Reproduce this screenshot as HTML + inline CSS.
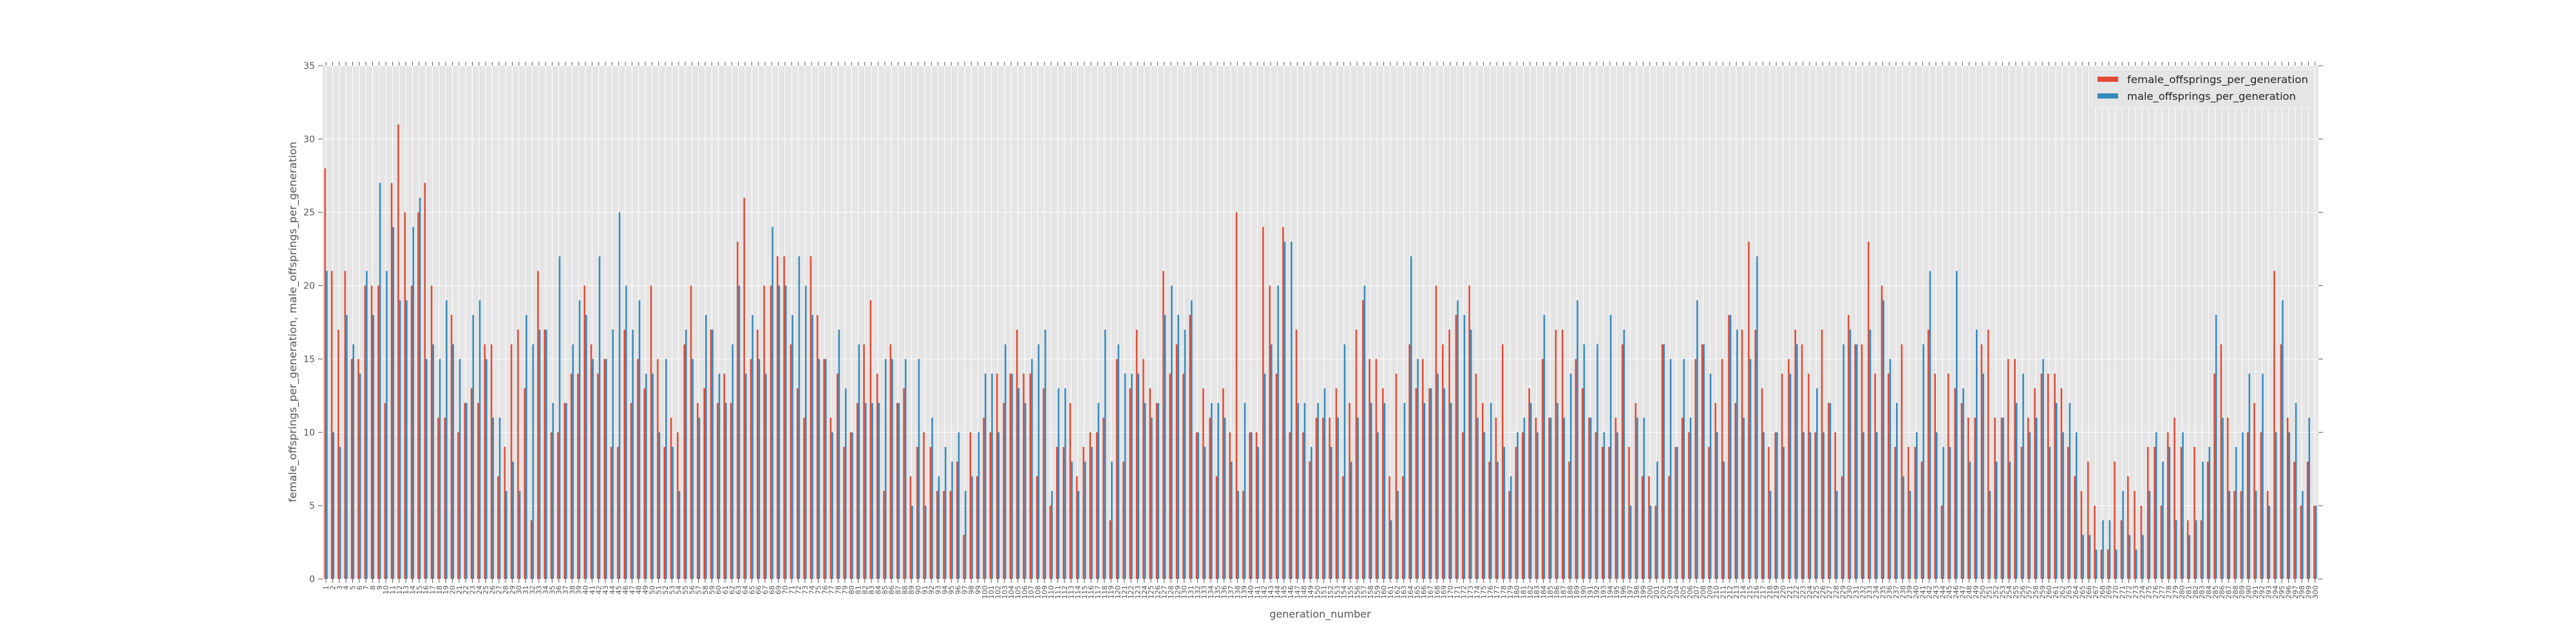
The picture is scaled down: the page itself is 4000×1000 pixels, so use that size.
<!DOCTYPE html>
<html><head><meta charset="utf-8"><style>
html,body{margin:0;padding:0;background:#fff;}
svg{display:block;font-family:"DejaVu Sans","Liberation Sans",sans-serif;}
</style></head><body>
<svg id="chart" width="4000" height="1000" viewBox="0 0 4000 1000" xmlns="http://www.w3.org/2000/svg">
<rect x="501" y="102" width="3099" height="797" fill="#e5e5e5"/>
<g id="grid"></g>
<g id="bars"></g>
<g id="xticks"></g>
<g id="yticks"></g>
<text x="2050" y="959" text-anchor="middle" font-size="16" fill="#555">generation_number</text>
<text transform="translate(460,500) rotate(-90)" text-anchor="middle" font-size="16" fill="#555" textLength="560" lengthAdjust="spacingAndGlyphs">female_offsprings_per_generation, male_offsprings_per_generation</text>
<g>
<rect x="3249" y="108" width="344" height="59" fill="#e5e5e5" stroke="#f4f4f4" stroke-width="1"/>
<g>
<rect x="3257" y="119" width="32" height="8" fill="#E24A33"/>
<text x="3303" y="129" font-size="16" fill="#222" textLength="281" lengthAdjust="spacingAndGlyphs">female_offsprings_per_generation</text>
</g>
<g>
<rect x="3257" y="145" width="32" height="8" fill="#348ABD"/>
<text x="3303" y="155" font-size="16" fill="#222" textLength="262" lengthAdjust="spacingAndGlyphs">male_offsprings_per_generation</text>
</g>
</g>
</svg>
<script>
const female = [28,21,17,21,15,15,20,20,20,12,27,31,25,20,25,27,20,11,11,18,10,12,13,12,16,16,7,9,16,17,13,4,21,17,10,10,12,14,14,20,16,14,15,9,9,17,12,
15,13,20,15,9,11,10,16,20,12,13,17,12,14,12,23,26,15,17,20,20,22,22,16,13,11,22,18,15,11,14,9,10,12,16,19,14,6,16,12,13,7,9,
10,9,6,6,6,8,3,10,7,11,10,14,12,14,17,14,14,7,13,5,9,9,12,7,9,10,10,11,4,15,8,13,17,15,13,12,21,14,16,14,18,10,13,
11,7,13,10,25,6,10,10,24,20,14,24,10,17,10,8,11,11,11,13,7,12,17,19,15,15,13,7,14,7,16,13,15,13,20,16,17,18,10,20,14,12,8,
11,16,6,9,10,13,11,15,11,17,17,8,15,13,11,10,9,9,11,16,9,12,7,7,5,16,7,9,11,10,15,16,9,12,15,18,12,17,23,17,13,9,10,
14,15,17,16,14,10,17,12,10,7,18,16,16,23,14,20,14,9,16,9,9,8,17,14,5,14,13,12,11,11,16,17,11,11,15,15,9,11,13,14,14,14,
13,9,7,6,8,5,2,2,8,4,7,6,5,9,9,5,10,11,9,4,9,4,8,14,16,11,6,6,10,12,10,6,21,16,11,8,5,8,5];
const male = [21,10,9,18,16,14,21,18,27,21,24,19,19,24,26,15,16,15,19,16,15,12,18,19,15,11,11,6,8,6,18,16,17,17,12,22,12,16,19,18,15,22,15,17,25,20,17,
19,14,14,10,15,9,6,17,15,11,18,17,14,12,16,20,14,18,15,14,24,20,20,18,22,20,18,15,15,10,17,13,10,16,12,12,12,15,15,12,15,5,15,
5,11,7,9,8,10,6,7,10,14,14,10,16,14,13,12,15,16,17,6,13,13,8,6,8,9,12,17,8,16,14,14,14,12,11,12,18,20,18,17,19,10,9,
12,12,11,8,6,12,10,9,14,16,20,23,23,12,12,9,12,13,9,11,16,8,11,20,12,10,12,4,6,12,22,15,12,13,14,13,12,19,18,17,11,10,12,
8,9,7,10,11,12,10,18,11,12,11,14,19,16,11,16,10,18,10,17,5,11,11,5,8,16,15,9,15,11,19,16,14,10,8,18,17,11,15,22,10,6,10,
9,14,16,10,10,13,10,12,6,16,17,16,10,17,10,19,15,12,7,6,10,16,21,10,9,9,21,13,8,17,14,6,8,11,8,12,14,10,11,15,9,12,
10,12,10,3,3,2,4,4,2,6,3,2,3,6,10,8,9,4,10,3,4,8,9,18,11,6,9,10,14,6,14,5,10,19,10,12,6,11,5];
const categories = female.map((_, i) => String(i + 1));
const yTicks = [0,5,10,15,20,25,30,35];

const NS = "http://www.w3.org/2000/svg";
const L = 501, R = 3600, T = 102, B = 899, YMAX = 35;
const n = categories.length;
const step = (R - L) / n;
function xScale(i){ return L + (i + 0.5) * step; }
function yScale(v){ return B - v / YMAX * (B - T); }
function mk(tag, attrs, parent){ const e = document.createElementNS(NS, tag); for (const k in attrs) e.setAttribute(k, attrs[k]); parent.appendChild(e); return e; }

const grid = document.getElementById('grid');
const bars = document.getElementById('bars');
const xt = document.getElementById('xticks');
const yt = document.getElementById('yticks');

categories.forEach((c, i) => {
  const x = xScale(i);
  const g = mk('line', {x1:x, x2:x, y1:T, y2:B, stroke:'#fff', 'stroke-width':1}, grid);
  
  
  const t1 = mk('line', {x1:x, x2:x, y1:B, y2:B+6, stroke:'#555', 'stroke-width':1}, xt);
  
  
  const t2 = mk('line', {x1:x, x2:x, y1:T-6, y2:T, stroke:'#555', 'stroke-width':1}, xt);
  
  
  const lb = mk('text', {transform:`translate(${x+4},${B+10}) rotate(-90)`, 'text-anchor':'end', 'font-size':11, fill:'#555'}, xt);
  
  
  lb.textContent = c;
});
yTicks.forEach(v => {
  const y = yScale(v);
  const g = mk('line', {x1:L, x2:R, y1:y, y2:y, stroke:'#fff', 'stroke-width':1}, grid);
  
  
  const t = mk('line', {x1:L-7, x2:L, y1:y, y2:y, stroke:'#555', 'stroke-width':1}, yt);
  
  
  const t2 = mk('line', {x1:R, x2:R+7, y1:y, y2:y, stroke:'#555', 'stroke-width':1}, yt);
  
  
  const lb = mk('text', {x:L-12, y:y+5, 'text-anchor':'end', 'font-size':14, fill:'#555'}, yt);
  
  
  lb.textContent = v;
});
const bw = step * 0.25;
categories.forEach((c, i) => {
  const x = xScale(i);
  const f = mk('rect', {x:x-bw, y:yScale(female[i]), width:bw, height:B-yScale(female[i]), fill:'#E24A33'}, bars);
  
  
  const m = mk('rect', {x:x, y:yScale(male[i]), width:bw, height:B-yScale(male[i]), fill:'#348ABD'}, bars);
  
  
});
</script>
</body></html>
